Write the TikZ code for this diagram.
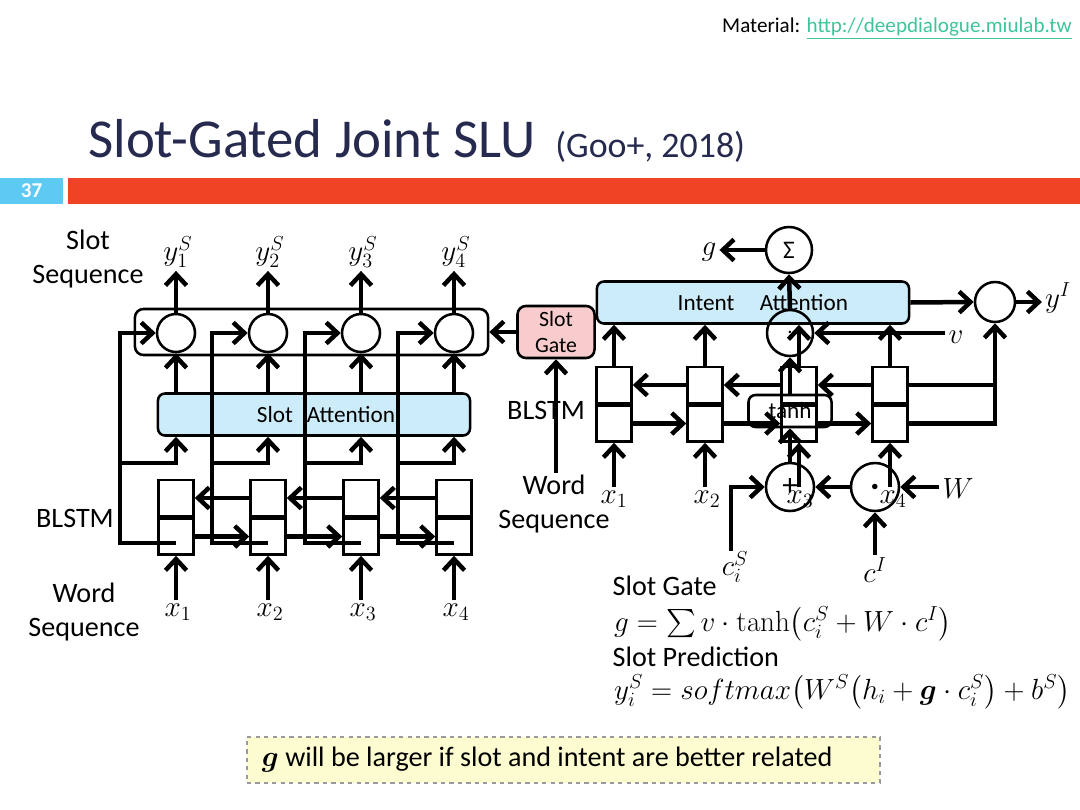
\documentclass[tikz,border=0pt]{standalone}
\usepackage{amsmath, amssymb}
\usepackage[no-math]{fontspec}
\setmainfont{Carlito}
\usepackage{xcolor}
\usepackage{tikz}
\usetikzlibrary{arrows.meta, positioning}
\definecolor{titlenavy}{RGB}{38,42,78}
\definecolor{barred}{RGB}{240,67,37}
\definecolor{numcyan}{RGB}{92,202,242}
\definecolor{linkteal}{RGB}{64,196,156}
\definecolor{attblue}{RGB}{204,236,250}
\definecolor{gatepink}{RGB}{248,204,204}
\definecolor{noteyellow}{RGB}{252,252,208}

\begin{document}
\begin{tikzpicture}[
    x=0.025cm, y=-0.025cm,
    cellbox/.style={rectangle, draw, line width=1.8pt, fill=white,
                    minimum width=0.875cm, minimum height=0.9cm, inner sep=0pt},
    outc/.style={circle, draw, line width=1.8pt, fill=white,
                 minimum size=0.95cm, inner sep=0pt},
    gatec/.style={circle, draw, line width=1.8pt, minimum size=1.15cm,
                  inner sep=0pt, font=\fontsize{18}{20}\selectfont},
    attbox/.style={rectangle, rounded corners=5pt, draw, line width=1.8pt,
                   fill=attblue, minimum width=7.8cm, minimum height=1.05cm,
                   font=\fontsize{16.5}{20}\selectfont},
    seqbox/.style={rectangle, rounded corners=6pt, draw, line width=1.8pt,
                   minimum width=8.825cm, minimum height=1.15cm},
    gatebox/.style={rectangle, rounded corners=6pt, draw, line width=1.8pt,
                    fill=gatepink, minimum width=1.925cm, minimum height=1.3cm,
                    align=center, font=\fontsize{15.5}{19}\selectfont},
    tanhbox/.style={rectangle, rounded corners=5pt, draw, line width=1.8pt,
                    minimum width=2.075cm, minimum height=0.8cm,
                    font=\fontsize{16.5}{20}\selectfont},
    lbl/.style={font=\fontsize{20}{24}\selectfont, align=center, inner sep=1pt},
    mlbl/.style={font=\fontsize{20}{24}\selectfont, inner sep=2pt},
    wire/.style={line width=3.2pt},
    arr/.style={line width=3.2pt, -{Straight Barb[length=8pt, width=15pt]}}
  ]
  \useasboundingbox (0,0) rectangle (1080,810);

  % header
  \node[anchor=base east, inner sep=0pt, font=\fontsize{15}{17}\selectfont] (material) at (1072,32)
    {Material: {\color{linkteal}\underline{http://deepdialogue.miulab.tw}}};
  \node[anchor=base west, inner sep=0pt, text=titlenavy, font=\fontsize{39}{44}\selectfont] (title) at (88,157)
    {Slot-Gated Joint SLU};
  \node[anchor=base west, inner sep=0pt, text=titlenavy, font=\fontsize{25.5}{30}\selectfont] (cite) at (555,157)
    {(Goo+, 2018)};
  \node[fill=numcyan, minimum width=1.575cm, minimum height=0.65cm, inner sep=0pt,
        text=white, font=\fontsize{15}{17}\selectfont\bfseries] (pagenum) at (31.5,191) {37};
  \node[fill=barred, minimum width=25.3cm, minimum height=0.65cm, inner sep=0pt] (redbar) at (574,191) {};

  % left: slot filling side
  \node[seqbox] (slotseq) at (311.5,332) {};
  \node[attbox] (slotatt) at (314,414.5) {\hspace{17pt}Slot\hspace{0.6em}Attention};

  \node[outc] (o1) at (176,333) {};
  \node[outc] (o2) at (268,333) {};
  \node[outc] (o3) at (361,333) {};
  \node[outc] (o4) at (454,333) {};

  \node[mlbl] (ys1) at (178,252) {$y_1^S$};
  \node[mlbl] (ys2) at (270,252) {$y_2^S$};
  \node[mlbl] (ys3) at (363,252) {$y_3^S$};
  \node[mlbl] (ys4) at (456,252) {$y_4^S$};

  \node[cellbox] (h1u) at (176,498) {};
  \node[cellbox, below=0pt of h1u] (h1d) {};
  \node[cellbox] (h2u) at (268,498) {};
  \node[cellbox, below=0pt of h2u] (h2d) {};
  \node[cellbox] (h3u) at (361,498) {};
  \node[cellbox, below=0pt of h3u] (h3d) {};
  \node[cellbox] (h4u) at (454,498) {};
  \node[cellbox, below=0pt of h4u] (h4d) {};

  \node[mlbl] (xl1) at (178,612) {$x_1$};
  \node[mlbl] (xl2) at (270,612) {$x_2$};
  \node[mlbl] (xl3) at (363,612) {$x_3$};
  \node[mlbl] (xl4) at (456,612) {$x_4$};

  \node[lbl] (slotseqlbl) at (88,259) {Slot\\Sequence};
  \node[lbl] (blstml) at (75,518) {BLSTM};
  \node[lbl] (wordseql) at (84,612) {Word\\Sequence};

  \coordinate (tap1) at (176,543);
  \coordinate (tap2) at (268,543);
  \coordinate (tap3) at (361,543);
  \coordinate (tap4) at (454,543);
  \coordinate (by1) at (120,463);
  \coordinate (by2) at (212,463);
  \coordinate (by3) at (305,463);
  \coordinate (by4) at (398,463);

  \draw[arr] (xl1.north -| h1d) -- (h1d.south);
  \draw[arr] (xl2.north -| h2d) -- (h2d.south);
  \draw[arr] (xl3.north -| h3d) -- (h3d.south);
  \draw[arr] (xl4.north -| h4d) -- (h4d.south);

  \draw[arr] (h2u.west) -- (h1u.east);
  \draw[arr] (h3u.west) -- (h2u.east);
  \draw[arr] (h4u.west) -- (h3u.east);
  \draw[arr] (h1d.east) -- (h2d.west);
  \draw[arr] (h2d.east) -- (h3d.west);
  \draw[arr] (h3d.east) -- (h4d.west);

  \draw[arr] (tap1) -| (by1) |- (o1.west);
  \draw[arr] (tap2) -| (by2) |- (o2.west);
  \draw[arr] (tap3) -| (by3) |- (o3.west);
  \draw[arr] (tap4) -| (by4) |- (o4.west);
  \draw[arr] (by1) -| (slotatt.south -| h1u);
  \draw[arr] (by2) -| (slotatt.south -| h2u);
  \draw[arr] (by3) -| (slotatt.south -| h3u);
  \draw[arr] (by4) -| (slotatt.south -| h4u);

  \draw[arr] (slotatt.north -| o1) -- (o1.south);
  \draw[arr] (slotatt.north -| o2) -- (o2.south);
  \draw[arr] (slotatt.north -| o3) -- (o3.south);
  \draw[arr] (slotatt.north -| o4) -- (o4.south);

  \draw[arr] (o1.north) -- (o1.north |- ys1.south);
  \draw[arr] (o2.north) -- (o2.north |- ys2.south);
  \draw[arr] (o3.north) -- (o3.north |- ys3.south);
  \draw[arr] (o4.north) -- (o4.north |- ys4.south);

  % right: intent side
  \node[attbox] (intatt) at (753,302.5) {\hspace{14pt}Intent\hspace{1.1em}Attention};
  \node[gatebox] (gate) at (556,332) {Slot\\Gate};
  \node[lbl] (blstmr) at (546,410) {BLSTM};
  \node[lbl] (wordseqr) at (554,504) {Word\\Sequence};
  \coordinate (gatein) at (556,473);

  \node[cellbox] (i1u) at (614,385) {};
  \node[cellbox, below=0pt of i1u] (i1d) {};
  \node[cellbox] (i2u) at (705,385) {};
  \node[cellbox, below=0pt of i2u] (i2d) {};
  \node[cellbox] (i3u) at (799,385) {};
  \node[cellbox, below=0pt of i3u] (i3d) {};
  \node[cellbox] (i4u) at (890,385) {};
  \node[cellbox, below=0pt of i4u] (i4d) {};

  \node[mlbl] (xr1) at (614,499) {$x_1$};
  \node[mlbl] (xr2) at (707,499) {$x_2$};
  \node[mlbl] (xr3) at (800,499) {$x_3$};
  \node[mlbl] (xr4) at (893,499) {$x_4$};

  \node[outc, minimum size=1.0cm] (yout) at (995,302) {};
  \node[mlbl] (yI) at (1058,298) {$y^I$};

  % slot gate
  \node[gatec] (sigma) at (789,250) {Σ};
  \node[mlbl] (glab) at (709,252) {$g$};
  \node[gatec] (vdot) at (790,333) {$\cdot$};
  \node[mlbl] (vlab) at (956,337) {$v$};
  \node[tanhbox] (tanh) at (790,411) {tanh};
  \node[gatec, minimum size=1.2cm, font=\fontsize{22}{24}\selectfont] (plus) at (790,487) {+};
  \node[gatec, minimum size=1.2cm] (mul) at (875,487) {{\fontsize{10}{10}\selectfont$\bullet$}};
  \node[mlbl] (wlab) at (958,489) {$W$};
  \node[mlbl] (ci) at (875,570) {$c^I$};
  \node[mlbl, inner sep=0pt] (cs) at (735,567) {$c_i^S$};

  \draw[arr] (gate) -- (slotseq);
  \draw[arr] (gatein) -- (gate.south);

  \draw[arr] (xr1.north -| i1d) -- (i1d.south);
  \draw[arr] (xr2.north -| i2d) -- (i2d.south);
  \draw[arr] (xr3.north -| i3d) -- (i3d.south);
  \draw[arr] (xr4.north -| i4d) -- (i4d.south);

  \draw[arr] (i2u.west) -- (i1u.east);
  \draw[arr] (i3u.west) -- (i2u.east);
  \draw[arr] (i4u.west) -- (i3u.east);
  \draw[arr] (i1d.east) -- (i2d.west);
  \draw[arr] (i2d.east) -- (i3d.west);
  \draw[arr] (i3d.east) -- (i4d.west);

  \draw[arr] (i1u.north) -- (intatt.south -| i1u);
  \draw[arr] (i2u.north) -- (intatt.south -| i2u);
  \draw[arr] (i3u.north) -- (intatt.south -| i3u);
  \draw[arr] (i4u.north) -- (intatt.south -| i4u);

  \draw[wire] (i4u.east) -- (i4u.east -| yout);
  \draw[arr] (i4d.east) -| (yout.south);
  \draw[arr] (intatt.east) -- (yout.west);
  \draw[arr] (yout.east) -- (yout.east -| yI.west);

  \draw[arr] (sigma.west) -- (sigma.west -| glab.east);
  \draw[arr] (vdot.north) -- (sigma.south);
  \draw[arr] (vlab.west |- vdot) -- (vdot.east);
  \draw[arr] (tanh.north -| vdot) -- (vdot.south);
  \draw[arr] (plus.north) -- (tanh.south -| plus);
  \draw[arr] (mul.west) -- (plus.east);
  \draw[arr] (wlab.west |- mul) -- (mul.east);
  \draw[arr] (ci.north -| mul) -- (mul.south);
  \draw[arr] ([xshift=-3pt]cs.north) |- (plus.west);

  % formulas
  \node[lbl, anchor=west] (sgtxt) at (611,586) {Slot Gate};
  \node[mlbl, anchor=west] (geq) at (611,624)
    {$g=\sum v\cdot\tanh\bigl(c_i^S+W\cdot c^I\bigr)$};
  \node[lbl, anchor=west] (sptxt) at (611,657) {Slot Prediction};
  \node[mlbl, anchor=west] (yeq) at (611,692)
    {$y_i^S=softmax\bigl(W^S\bigl(h_i+\boldsymbol{g}\cdot c_i^S\bigr)+b^S\bigr)$};

  \node[draw=gray!80, dashed, line width=0.9pt, fill=noteyellow,
        minimum width=15.825cm, minimum height=1.15cm, text width=15.075cm,
        inner xsep=0.375cm, align=left, font=\fontsize{20}{24}\selectfont] (note) at (563.5,760)
    {\spaceskip=0pt\xspaceskip=0pt\relax
     $\boldsymbol{g}$ will be larger if slot and intent are better related};

\end{tikzpicture}
\end{document}
